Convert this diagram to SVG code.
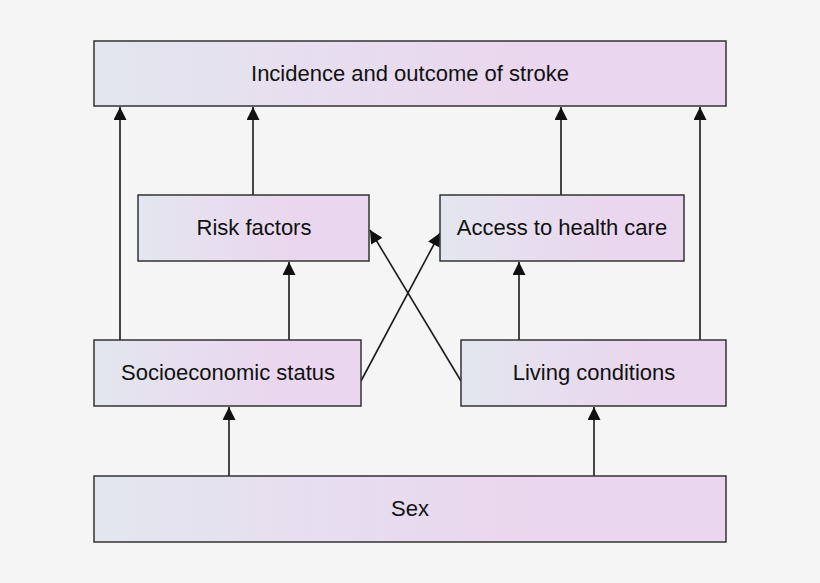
<svg xmlns="http://www.w3.org/2000/svg" width="820" height="583" viewBox="0 0 820 583">
<style>
.b{fill:url(#g);stroke:#333;stroke-width:1.5}
.t{font-family:"Liberation Sans",Arial,sans-serif;font-size:22px;fill:#111;text-anchor:middle;dominant-baseline:central}
.c line{stroke:#1a1a1a;stroke-width:1.6;marker-end:url(#a)}
</style>
<defs>
<linearGradient id="g" x1="0" y1="0" x2="1" y2="0"><stop offset="0" stop-color="#e3e6ef"/><stop offset="0.7" stop-color="#ead6ee"/><stop offset="1" stop-color="#ead6ee"/></linearGradient>
<marker id="a" viewBox="0 0 10 10" refX="10" refY="5" markerWidth="14" markerHeight="13" markerUnits="userSpaceOnUse" orient="auto"><path d="M0,0L10,5L0,10z" fill="#111"/></marker>
</defs>
<rect width="820" height="583" fill="#f5f5f5"/>
<g class="c">
<line x1="120" y1="340" x2="120" y2="107"/>
<line x1="253" y1="195" x2="253" y2="107"/>
<line x1="561" y1="195" x2="561" y2="107"/>
<line x1="700" y1="340" x2="700" y2="107"/>
<line x1="289" y1="340" x2="289" y2="262"/>
<line x1="519" y1="340" x2="519" y2="262"/>
<line x1="229" y1="476" x2="229" y2="407"/>
<line x1="594" y1="476" x2="594" y2="407"/>
<line x1="361" y1="381" x2="440" y2="233"/>
<line x1="461" y1="381" x2="370" y2="230"/>
</g>
<g id="top"><rect class="b" x="94" y="41" width="632" height="65"/><text class="t" x="410" y="73">Incidence and outcome of stroke</text></g>
<g id="risk"><rect class="b" x="138" y="195" width="231" height="66"/><text class="t" x="254" y="227">Risk factors</text></g>
<g id="access"><rect class="b" x="440" y="195" width="244" height="66"/><text class="t" x="562" y="227">Access to health care</text></g>
<g id="ses"><rect class="b" x="94" y="340" width="267" height="66"/><text class="t" x="228" y="372">Socioeconomic status</text></g>
<g id="living"><rect class="b" x="461" y="340" width="265" height="66"/><text class="t" x="594" y="372">Living conditions</text></g>
<g id="sex"><rect class="b" x="94" y="476" width="632" height="66"/><text class="t" x="410" y="508">Sex</text></g>
</svg>
